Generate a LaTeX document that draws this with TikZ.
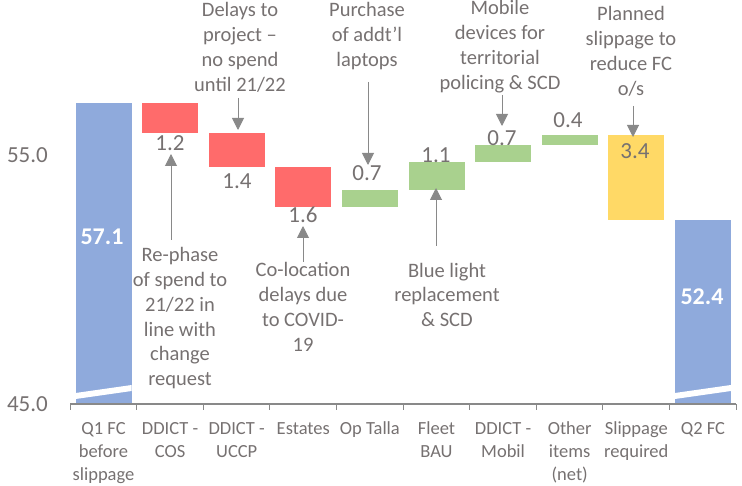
\documentclass[tikz,border=0pt]{standalone}
\usepackage{fontspec}
\setmainfont{Carlito}
\usetikzlibrary{arrows.meta}
\definecolor{barblue}{HTML}{8FAADC}
\definecolor{barred}{HTML}{FF6B6B}
\definecolor{bargreen}{HTML}{A9D18E}
\definecolor{baryellow}{HTML}{FFD966}
\definecolor{txtgray}{HTML}{767171}
\definecolor{axisgray}{HTML}{898989}
\tikzset{
    val/.style={text=txtgray, font=\fontsize{23}{27}\selectfont, inner sep=0pt, anchor=base},
    total/.style={text=white, font=\fontsize{24}{27}\selectfont\bfseries, inner sep=0pt, anchor=base},
    note/.style={text=txtgray, font=\fontsize{20.5}{25}\selectfont, align=center, inner sep=0pt, anchor=base},
    cat/.style={text=txtgray, font=\fontsize{18.5}{23}\selectfont, align=center, inner sep=0pt, anchor=base},
    callout/.style={draw=axisgray, line width=1pt, -{Triangle[width=12pt,length=12pt]}},
}
\begin{document}
\begin{tikzpicture}[x=1pt,y=-1pt]
        \useasboundingbox (0,0) rectangle (742,486);
        % totals
        \fill[barblue] (75.5,102.7) rectangle (131.5,404);
        \fill[barblue] (674.9,219.7) rectangle (730.9,404);
        \foreach \xa in {75.5,674.9}
            \fill[white] (\xa,393) -- (\xa+56,385) -- (\xa+56,391) -- (\xa,399) -- cycle;
        % steps
        \foreach \xa/\ya/\yb/\col in {142.1/102.7/132.6/barred, 208.7/132.6/167.5/barred,
                275.3/167.5/207.3/barred, 341.9/207.3/189.9/bargreen, 408.5/189.9/162.5/bargreen,
                475.1/162.5/145.0/bargreen, 541.7/145.0/135.1/bargreen, 608.3/135.1/219.7/baryellow}
            \fill[\col] (\xa,\ya) rectangle (\xa+56,\yb);
        % axis
        \draw[axisgray, line width=1.5pt] (70,404) -- (736,404);
        \foreach \i in {0,...,10}
            \draw[axisgray, line width=0.8pt] (70+66.6*\i,404) -- ++(0,6);
        \node[val, anchor=east] (y55) at (48,155.5) {55.0};
        \node[val, anchor=east] (y45) at (48,404) {45.0};
        % category labels (base = last line)
        \foreach \i/\yb/\txt in {0/480/{Q1 FC\\before\\slippage}, 1/457/{DDICT -\\COS}, 2/457/{DDICT -\\UCCP},
                3/434/Estates, 4/434/Op Talla, 5/457/{Fleet\\BAU}, 6/457/{DDICT -\\Mobil},
                7/480/{Other\\items\\(net)}, 8/457/{Slippage\\required}, 9/434/Q2 FC}
            \node[cat] (cat\i) at (103.5+66.6*\i,\yb) {\txt};
        % values
        \node[total] (vq1) at (102,245) {57.1};
        \node[total] (vq2) at (702,305) {52.4};
        \node[val] (vcos) at (170,151) {1.2};
        \node[val] (vuccp) at (237,189) {1.4};
        \node[val] (vest) at (303,223) {1.6};
        \node[val] (vtalla) at (367,181) {0.7};
        \node[val] (vfleet) at (436,163) {1.1};
        \node[val] (vmobil) at (502,146) {0.7};
        \node[val] (vother) at (568,128) {0.4};
        \node[val] (vslip) at (635,159) {3.4};
        % callouts
        \node[note] (ncos) at (180,386) {Re-phase\\of spend to\\21/22 in\\line with\\change\\request};
        \node[note] (nuccp) at (240,92) {Delays to\\project –\\no spend\\until 21/22};
        \node[note] (nest) at (303,352) {Co-location\\delays due\\to COVID-\\19};
        \node[note] (ntalla) at (367,67) {Purchase\\of addt’l\\laptops};
        \node[note] (nfleet) at (447,327) {Blue light\\replacement\\\& SCD};
        \node[note] (nmobil) at (500,90) {Mobile\\devices for\\territorial\\policing \& SCD};
        \node[note] (nslip) at (631,96) {Planned\\slippage to\\reduce FC\\o/s};
        \coordinate (scos) at (171,240);   \coordinate (tcos) at (171,154);
        \coordinate (succp) at (238,98);   \coordinate (tuccp) at (238,130);
        \coordinate (sest) at (303,262);   \coordinate (test) at (303,226);
        \coordinate (stalla) at (368,82);  \coordinate (ttalla) at (368,165);
        \coordinate (sfleet) at (436,246); \coordinate (tfleet) at (436,188);
        \coordinate (smobil) at (502,95);  \coordinate (tmobil) at (502,126);
        \coordinate (sslip) at (633,106);  \coordinate (tslip) at (633,137);
        \foreach \n in {cos,uccp,est,talla,fleet,mobil,slip}
            \draw[callout] (s\n) -- (t\n);
\end{tikzpicture}
\end{document}
